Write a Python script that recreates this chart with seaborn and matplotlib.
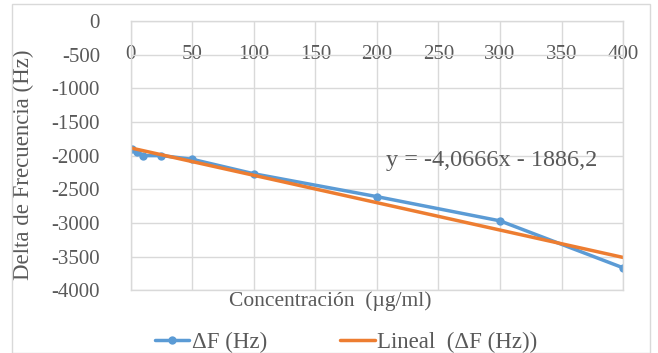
import numpy as np
import pandas as pd
import matplotlib
matplotlib.use("Agg")
import matplotlib.pyplot as plt
import seaborn as sns
from matplotlib.patches import Rectangle

# data
concentracion = [1, 5, 10, 25, 50, 100, 200, 300, 400]
delta_f = [-1900, -1940, -2000, -2000, -2055, -2270, -2610, -2970, -3668]
x_ticks = [0, 50, 100, 150, 200, 250, 300, 350, 400]
y_ticks = [0, -500, -1000, -1500, -2000, -2500, -3000, -3500, -4000]
ecuacion = "y = -4,0666x - 1886,2"

BLUE = "#5B9BD5"
ORANGE = "#ED7D31"
GRAY = "#595959"
GRID = "#D9D9D9"

sns.set_theme(style="white")
plt.rcParams["font.family"] = ["Liberation Serif", "DejaVu Serif"]
plt.rcParams["axes.unicode_minus"] = False

df = pd.DataFrame({"x": concentracion, "y": delta_f})
slope, intercept = np.polyfit(df["x"], df["y"], 1)
trend = pd.DataFrame({"x": [0, 400]})
trend["y"] = slope * trend["x"] + intercept

fig = plt.figure(figsize=(6.58, 3.53), dpi=100)
ax = fig.add_axes([0.1986, 0.178, 0.7484, 0.7625])

sns.lineplot(data=df, x="x", y="y", ax=ax, color=BLUE, lw=2.5,
             marker="o", markersize=6, markeredgewidth=0, label="ΔF (Hz)")
sns.lineplot(data=trend, x="x", y="y", ax=ax, color=ORANGE, lw=2.5,
             label="Lineal  (ΔF (Hz))")

ax.set_xlim(0, 400)
ax.set_ylim(-4000, 0)
ax.set_xticks(x_ticks)
ax.set_yticks(y_ticks)
ax.grid(True, color=GRID, lw=1)
for s in ax.spines.values():
    s.set_color(GRID)
    s.set_linewidth(1)

ax.tick_params(axis="x", top=False, bottom=False, labeltop=True,
               labelbottom=False, pad=-37, labelsize=15, labelcolor=GRAY)
ax.tick_params(axis="y", left=False, pad=16, labelsize=15, labelcolor=GRAY)

ax.set_xlabel("Concentración  (µg/ml)", fontsize=15.5, color=GRAY)
ax.xaxis.set_label_position("bottom")
ax.xaxis.label.set_va("center")
ax.xaxis.set_label_coords(0.405, -0.04)
ax.set_ylabel("Delta de Frecuencia (Hz)", fontsize=16.5, color=GRAY)
ax.yaxis.set_label_coords(-0.196, 0.465)

ax.text(207, -2070, ecuacion, fontsize=17.5, color=GRAY, va="center", ha="left")

ax.get_legend().remove()
handles, labels = ax.get_legend_handles_labels()
fig.legend(handles, labels, loc="center", bbox_to_anchor=(346 / 658, 1 - 342 / 353),
           ncol=2, frameon=False, fontsize=16.5, labelcolor=GRAY,
           handlelength=1.5, handletextpad=0.1, columnspacing=3.2)

fig.patches.append(Rectangle((0.018, 0.0), 0.97, 0.99, transform=fig.transFigure,
                             fill=False, edgecolor=GRID, lw=1))

fig.savefig("out.png", dpi=100)
